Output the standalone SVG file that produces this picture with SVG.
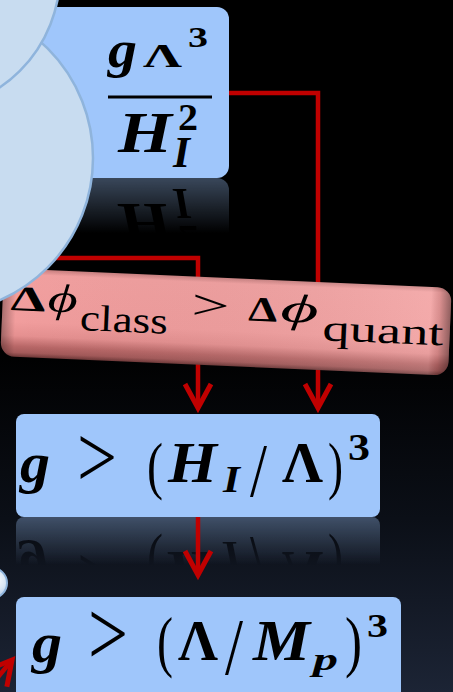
<svg xmlns="http://www.w3.org/2000/svg" xmlns:xlink="http://www.w3.org/1999/xlink" width="453" height="692" viewBox="0 0 453 692">
<defs>
<style>
.m{font-family:"Liberation Serif","DejaVu Serif",serif;fill:#000}
.bi{font-weight:bold;font-style:italic}
.b{font-weight:bold}
.i{font-style:italic}
.box{fill:#9fc6fb}
.bub{fill:#c8dcf0;stroke:#8fb4dc;stroke-width:2.5}
</style>
<linearGradient id="bg" x1="0" y1="0" x2="0" y2="1">
<stop offset="0" stop-color="#000"/>
<stop offset="0.5" stop-color="#000"/>
<stop offset="0.75" stop-color="#0b0f17"/>
<stop offset="1" stop-color="#1c2435"/>
</linearGradient>
<linearGradient id="fade" x1="0" y1="0" x2="0" y2="1">
<stop offset="0" stop-color="#fff" stop-opacity="0.36"/>
<stop offset="1" stop-color="#fff" stop-opacity="0"/>
</linearGradient>
<mask id="mTop" maskUnits="userSpaceOnUse" x="0" y="0" width="453" height="692">
<rect x="0" y="178" width="453" height="55" fill="url(#fade)"/>
</mask>
<mask id="mMid" maskUnits="userSpaceOnUse" x="0" y="0" width="453" height="692">
<rect x="0" y="517" width="453" height="48" fill="url(#fade)"/>
</mask>
<linearGradient id="pinkV" x1="0" y1="0" x2="0" y2="1">
<stop offset="0" stop-color="#c98080"/>
<stop offset="0.06" stop-color="#f2a0a0"/>
<stop offset="0.6" stop-color="#f19d9d"/>
<stop offset="0.76" stop-color="#e59090"/>
<stop offset="0.88" stop-color="#b86767"/>
<stop offset="0.95" stop-color="#a45a5a"/>
<stop offset="1" stop-color="#6e3838"/>
</linearGradient>
<linearGradient id="pinkH" x1="0" y1="0" x2="1" y2="0">
<stop offset="0" stop-color="#000" stop-opacity="0.3"/>
<stop offset="0.03" stop-color="#000" stop-opacity="0"/>
<stop offset="0.955" stop-color="#fff" stop-opacity="0.12"/>
<stop offset="0.975" stop-color="#000" stop-opacity="0.1"/>
<stop offset="1" stop-color="#000" stop-opacity="0.4"/>
</linearGradient>
<radialGradient id="bubG" cx="0.6" cy="0.4" r="0.6">
<stop offset="0" stop-color="#ffffff"/>
<stop offset="0.6" stop-color="#d6e5f4"/>
<stop offset="1" stop-color="#a9c4e2"/>
</radialGradient>
<marker id="arr" markerUnits="userSpaceOnUse" markerWidth="40" markerHeight="40" viewBox="-30 -20 40 40" refX="0" refY="0" orient="auto" overflow="visible">
<path d="M-24,-13 L0,0 L-24,13" fill="none" stroke="#c00000" stroke-width="5" stroke-linejoin="miter"/>
</marker>
</defs>

<rect x="0" y="0" width="453" height="692" fill="url(#bg)"/>

<!-- reflections -->
<g mask="url(#mTop)"><use xlink:href="#node-top" href="#node-top" transform="translate(0,356) scale(1,-1)"/></g>
<g mask="url(#mMid)"><use xlink:href="#node-mid" href="#node-mid" transform="translate(0,1034) scale(1,-1)"/></g>

<g id="node-top">
<rect class="box" x="30" y="7" width="199" height="171" rx="12"/>
<text class="m bi" x="108" y="67" font-size="52" textLength="29" lengthAdjust="spacingAndGlyphs">g</text>
<text class="m b" x="143" y="67" font-size="34" textLength="39" lengthAdjust="spacingAndGlyphs">Λ</text>
<text class="m b" x="188" y="47" font-size="30" textLength="20" lengthAdjust="spacingAndGlyphs">3</text>
<rect x="108" y="95.5" width="104" height="3" fill="#000"/>
<text class="m bi" x="118" y="152" font-size="56" textLength="54" lengthAdjust="spacingAndGlyphs">H</text>
<text class="m b" x="178" y="130" font-size="38" textLength="20" lengthAdjust="spacingAndGlyphs">2</text>
<text class="m bi" x="173" y="167" font-size="44" textLength="17" lengthAdjust="spacingAndGlyphs">I</text>
</g>

<g id="node-mid">
<rect class="box" x="16" y="414" width="364" height="103" rx="8"/>
<text class="m bi" x="20" y="482" font-size="58" textLength="30" lengthAdjust="spacingAndGlyphs">g</text>
<text class="m" x="77" y="487" font-size="88" textLength="40" lengthAdjust="spacingAndGlyphs">&gt;</text>
<text class="m" x="147" y="487" font-size="63" textLength="16" lengthAdjust="spacingAndGlyphs">(</text>
<text class="m bi" x="168" y="482" font-size="56" textLength="49" lengthAdjust="spacingAndGlyphs">H</text>
<text class="m bi" x="223" y="492" font-size="38" textLength="17" lengthAdjust="spacingAndGlyphs">I</text>
<text class="m" x="250" y="496" font-size="76" textLength="17" lengthAdjust="spacingAndGlyphs">/</text>
<text class="m b" x="282" y="482" font-size="56" textLength="41" lengthAdjust="spacingAndGlyphs">Λ</text>
<text class="m" x="328" y="487" font-size="63" textLength="15" lengthAdjust="spacingAndGlyphs">)</text>
<text class="m b" x="348" y="460" font-size="37" textLength="22" lengthAdjust="spacingAndGlyphs">3</text>
</g>

<g id="node-bottom">
<rect class="box" x="16" y="597" width="385" height="110" rx="8"/>
<text class="m bi" x="32" y="662" font-size="58" textLength="30" lengthAdjust="spacingAndGlyphs">g</text>
<text class="m" x="88" y="665" font-size="94" textLength="40" lengthAdjust="spacingAndGlyphs">&gt;</text>
<text class="m" x="157" y="664" font-size="67" textLength="16" lengthAdjust="spacingAndGlyphs">(</text>
<text class="m b" x="178" y="660" font-size="57" textLength="40" lengthAdjust="spacingAndGlyphs">Λ</text>
<text class="m" x="225" y="674" font-size="80" textLength="18" lengthAdjust="spacingAndGlyphs">/</text>
<text class="m bi" x="253" y="660" font-size="57" textLength="57" lengthAdjust="spacingAndGlyphs">M</text>
<text class="m bi" x="313" y="670" font-size="32" textLength="25" lengthAdjust="spacingAndGlyphs">p</text>
<text class="m" x="345" y="664" font-size="67" textLength="17" lengthAdjust="spacingAndGlyphs">)</text>
<text class="m b" x="367" y="637" font-size="33" textLength="21" lengthAdjust="spacingAndGlyphs">3</text>
</g>

<g id="connectors" fill="none" stroke="#c00000" stroke-width="4.5">
<path d="M229,93 H318 V408" marker-end="url(#arr)"/>
<path d="M30,258 H198 V408" marker-end="url(#arr)"/>
<path d="M198,517 V575" marker-end="url(#arr)"/>
<path d="M-15,693 L12,660" marker-end="url(#arr)"/>
</g>

<g id="node-condition" transform="rotate(2.5 227 322)">
<rect x="2" y="278" width="448" height="88" rx="14" fill="url(#pinkV)"/>
<rect x="2" y="278" width="448" height="88" rx="14" fill="url(#pinkH)"/>
<text class="m b" x="10" y="319.5" font-size="35" textLength="35" lengthAdjust="spacingAndGlyphs">Δ</text>
<text class="m i" x="47" y="319" font-size="40" textLength="30" lengthAdjust="spacingAndGlyphs">ϕ</text>
<text class="m" x="80" y="336.4" font-size="37" textLength="88" lengthAdjust="spacingAndGlyphs">class</text>
<text class="m" x="191" y="320" font-size="42" textLength="38" lengthAdjust="spacingAndGlyphs">&gt;</text>
<text class="m b" x="248" y="319.5" font-size="35" textLength="29" lengthAdjust="spacingAndGlyphs">Δ</text>
<text class="m i" x="280" y="319" font-size="40" textLength="38" lengthAdjust="spacingAndGlyphs">ϕ</text>
<text class="m" x="322.8" y="336" font-size="37" textLength="121" lengthAdjust="spacingAndGlyphs">quant</text>
</g>

<g id="node-cloud">
<circle class="bub" cx="-62" cy="158" r="155"/>
<circle class="bub" cx="-77" cy="-26" r="137"/>
</g>
<g id="node-small-bubble">
<circle cx="-8" cy="583" r="15" fill="url(#bubG)" stroke="#8fb4dc" stroke-width="2"/>
</g>
</svg>
